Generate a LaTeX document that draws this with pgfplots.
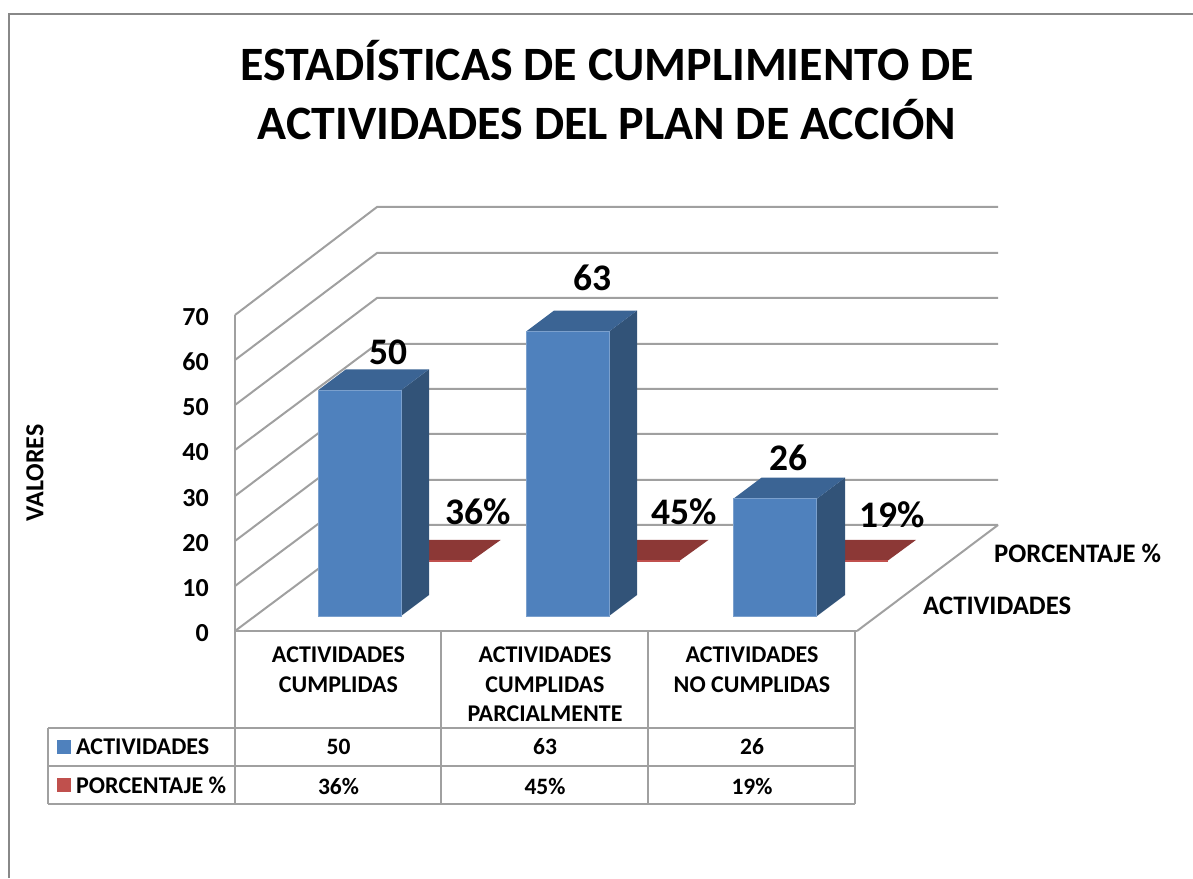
\documentclass[border=0pt]{standalone}
\usepackage{fontspec}
\setmainfont{Carlito}
\usepackage{pgfplots}
\usepackage{pgfplotstable}
\pgfplotsset{compat=1.18}
\definecolor{gl}{HTML}{A0A0A0}
\definecolor{frontB}{HTML}{4F81BD}
\definecolor{topB}{HTML}{3B6494}
\definecolor{sideB}{HTML}{325378}
\definecolor{topR}{HTML}{8C3836}
\definecolor{legR}{HTML}{C0504D}
\newcommand{\fs}[2]{\fontsize{#1}{#2}\selectfont\bfseries}
\pgfplotstableread{
x v
359.5 50
567.5 63
775 26
}\actividades
\begin{document}
\begin{tikzpicture}
\useasboundingbox (0,0) rectangle (1193pt,878pt);
\begin{scope}[x=1pt,y=-1pt,yshift=878pt]
\draw[gl!85!black,line width=1.8pt] (9,878) -- (9,14) -- (1193,14);
% walls
\foreach \f/\b in {631/525,586/480,541/434,496/389,450/344,405/298,360/253,315/207}{
  \draw[gl,line width=2pt] (235,\f) -- (377,\b) -- (998,\b);
}
\draw[gl,line width=2pt] (235,631) -- (235,315);
\draw[gl,line width=2pt] (998,525) -- (857,631);
% data table
\draw[gl,line width=2.2pt] (235,631) -- (857,631);
\foreach \x in {235,441,648,855}{\draw[gl,line width=2.2pt] (\x,631) -- (\x,804);}
\draw[gl,line width=2.2pt] (48,728) -- (855,728) (48,766) -- (855,766) (48,804) -- (855,804) (48,728) -- (48,804);
\fill[frontB] (57,740) rectangle (71,754);
\fill[legR] (57,778) rectangle (71,792);
\node[anchor=west,inner sep=0,font=\fs{24}{28}] at (76,747) {ACTIVIDADES};
\node[anchor=west,inner sep=0,font=\fs{24}{28}] at (76,785) {PORCENTAJE \%};
\foreach \x/\a/\b in {338.5/50/36\%,545/63/45\%,752/26/19\%}{
  \node[inner sep=0,font=\fs{23.5}{28}] at (\x,747) {\a};
  \node[inner sep=0,font=\fs{23.5}{28}] at (\x,786) {\b};
}
% text
\node[align=center,inner sep=0,font=\fs{47.9}{59.5}] at (607,90) {ESTADÍSTICAS DE CUMPLIMIENTO DE\\ACTIVIDADES DEL PLAN DE ACCIÓN};
\node[rotate=90,inner sep=0,font=\fs{26}{28}] at (35,473) {VALORES};
\node[anchor=west,inner sep=0,font=\fs{26.7}{28}] at (994,553) {PORCENTAJE \%};
\node[anchor=west,inner sep=0,font=\fs{26.7}{28}] at (923,606) {ACTIVIDADES};
\end{scope}
% axis carrying the value scale and the categories
\begin{axis}[
  at={(235pt,247pt)},anchor=south west,scale only axis,
  width=622pt,height=316pt,xmin=235,xmax=857,ymin=0,ymax=70,clip=false,
  axis line style={draw=none},major tick length=0pt,
  ytick={0,10,...,70},
  xtick={338.5,545,752},
  xticklabels={{ACTIVIDADES\\CUMPLIDAS},{ACTIVIDADES\\CUMPLIDAS\\PARCIALMENTE},{ACTIVIDADES\\NO CUMPLIDAS}},
  yticklabel style={/pgf/number format/assume math mode=true,font=\fs{26}{28},anchor=east,xshift=-26pt,yshift=-2pt,inner sep=0pt},
  xticklabel style={align=center,font=\fs{24}{29.5},anchor=north,yshift=-16pt,inner sep=0pt},
]
\addplot[draw=none,forget plot] coordinates {(235,0)};
\end{axis}
% axis of the bars: front plane of the series
\begin{axis}[
  at={(235pt,262pt)},anchor=south west,scale only axis,hide axis,
  width=622pt,height=316pt,xmin=235,xmax=857,ymin=0,ymax=70,clip=false,
]
% PORCENTAJE series (back row, height = percentage points as fraction)
\addplot[fill=topR,draw=none] coordinates {(389,12.3)(472,12.3)(500.7,16.85)(417,16.85)} --cycle;
\addplot[fill=topR,draw=none] coordinates {(596.5,12.3)(680,12.3)(708.5,16.85)(625,16.85)} --cycle;
\addplot[fill=topR,draw=none] coordinates {(804,12.3)(888,12.3)(916,16.85)(832,16.85)} --cycle;
\addplot[fill=legR,draw=none] coordinates {(389,11.9)(472,11.9)(472,12.3)(389,12.3)} --cycle;
\addplot[fill=legR,draw=none] coordinates {(596.5,11.9)(680,11.9)(680,12.3)(596.5,12.3)} --cycle;
\addplot[fill=legR,draw=none] coordinates {(804,11.9)(888,11.9)(888,12.3)(804,12.3)} --cycle;
% ACTIVIDADES series: side and top faces
\addplot[fill=sideB,draw=none] coordinates {(401,0)(429,4.65)(429,54.65)(401,50)} --cycle;
\addplot[fill=topB,draw=none] coordinates {(318,50)(401,50)(429,54.65)(346,54.65)} --cycle;
\addplot[fill=sideB,draw=none] coordinates {(609,0)(637,4.65)(637,67.65)(609,63)} --cycle;
\addplot[fill=topB,draw=none] coordinates {(526,63)(609,63)(637,67.65)(554,67.65)} --cycle;
\addplot[fill=sideB,draw=none] coordinates {(817,0)(845,4.65)(845,30.65)(817,26)} --cycle;
\addplot[fill=topB,draw=none] coordinates {(733.5,26)(817,26)(845,30.65)(761.5,30.65)} --cycle;
% front faces
\addplot[ybar,bar width=83pt,bar shift=0pt,fill=frontB,draw=frontB!75!white,line width=0.6pt] table[x=x,y=v] {\actividades};
% data labels
\addplot[draw=none,mark=none,nodes near coords,point meta=explicit symbolic,
  every node near coord/.append style={anchor=center,inner sep=0,font=\fs{37.5}{40},text=black}]
  coordinates {(388,58.5)[50] (592,74.9)[63] (788,35)[26] (478,23.0)[36\%] (684,23.0)[45\%] (892,22.4)[19\%]};
\end{axis}
\end{tikzpicture}
\end{document}
